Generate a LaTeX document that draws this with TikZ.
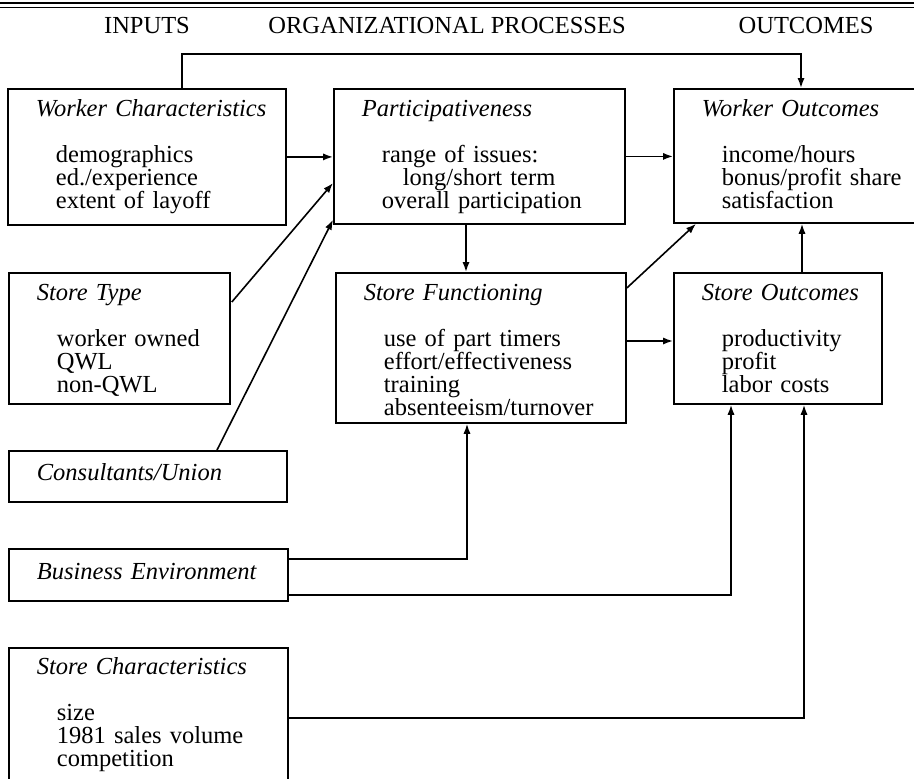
\documentclass[tikz,border=0pt]{standalone}
\usepackage{fontspec}
\setmainfont{Liberation Serif}
\usepackage{tikz}
\usetikzlibrary{arrows.meta}
\usetikzlibrary{calc}
\tikzstyle{box} = [draw,line width=0.9pt,anchor=north west,align=left,inner xsep=0pt,inner ysep=0pt,text height=14pt]
\tikzstyle{head} = [anchor=base,inner sep=0pt]
\tikzstyle{conn} = [line width=0.8pt]
\def\tab{\hspace*{14pt}}
\def\ind{\hspace*{24pt}}
\def\indd{\hspace*{34.5pt}}

\begin{document}
\begin{tikzpicture}[>={Latex[length=5pt,width=3.6pt]},x=0.5pt,y=-0.5pt,font=\fontsize{12.25}{11.5}\selectfont]

    \useasboundingbox (0,0) rectangle (914,778);

% Draw rule and headings

    \draw[line width=1pt] (0,3) -- (914,3);
    \draw[line width=0.4pt] (0,7) -- (914,7);
    \node[head] at (147,33) (hin) {INPUTS};
    \node[head] at (447,33) (hproc) {ORGANIZATIONAL PROCESSES};
    \node[head] at (806,33) (hout) {OUTCOMES};

% Draw blocks

    \node[box,text width=139pt,text depth=54pt] at (7,88) (wchar) {\tab\textit{Worker Characteristics}\\[11.5pt]\ind demographics\\\ind ed./experience\\\ind extent of layoff};
    \node[box,text width=145.5pt,text depth=53.5pt] at (333,88) (part) {\tab\textit{Participativeness}\\[11.5pt]\ind range of issues:\\\indd long/short term\\\ind overall participation};
    \node[box,text width=121pt,text depth=53pt] at (673,88) (wout) {\tab\textit{Worker Outcomes}\\[11.5pt]\ind income/hours\\\ind bonus/profit share\\\ind satisfaction};
    \node[box,text width=110.5pt,text depth=51.5pt] at (8,272) (stype) {\tab\textit{Store Type}\\[11.5pt]\ind worker owned\\\ind QWL\\\ind non-QWL};
    \node[box,text width=145pt,text depth=61pt] at (335,272) (sfunc) {\tab\textit{Store Functioning}\\[11.5pt]\ind use of part timers\\\ind effort/effectiveness\\\ind training\\\ind absenteeism/turnover};
    \node[box,text width=104pt,text depth=51.5pt] at (673,272) (sout) {\tab\textit{Store Outcomes}\\[11.5pt]\ind productivity\\\ind profit\\\ind labor costs};
    \node[box,text width=139pt,text height=15pt,text depth=10.5pt] at (8,450) (cons) {\tab\textit{Consultants/Union}};
    \node[box,text width=139.5pt,text height=15.5pt,text depth=10.5pt] at (8,548) (benv) {\tab\textit{Business Environment}};
    \node[box,text width=139.5pt,text height=13.5pt,text depth=56.5pt] at (8,647) (schar) {\tab\textit{Store Characteristics}\\[11.5pt]\ind size\\\ind 1981 sales volume\\\ind competition};

% Draw connectors

    \draw[conn,->] (wchar.east) -- (wchar.east -| part.west);
    \draw[conn,->] (part.east) -- (part.east -| wout.west);
    \draw[conn,->] ($(wchar.north west)+(175,0)$) |- ($(wout.north west)+(128,-34)$) -- ($(wout.north west)+(128,0)$);
    \draw[conn,->] ($(stype.north east)+(1,30)$) -- ($(part.north west)+(0,95)$);
    \draw[conn,->] ($(cons.north west)+(209,0)$) -- ($(part.south west)+(0,-5)$);
    \draw[conn,->] ($(part.south west)+(133,0)$) -- ($(sfunc.north west)+(131,0)$);
    \draw[conn,->] ($(sfunc.north east)+(0,16)$) -- ($(wout.south west)+(23,0)$);
    \draw[conn,->] ($(sfunc.north east)+(0,69)$) -- ($(sout.north west)+(0,69)$);
    \draw[conn,->] ($(sout.north west)+(129,0)$) -- ($(wout.south west)+(129,0)$);
    \draw[conn,->] ($(benv.north east)+(0,11)$) -| ($(sfunc.south west)+(132,0)$);
    \draw[conn,->] ($(benv.south east)+(0,-7)$) -| ($(sout.south west)+(58,0)$);
    \draw[conn,->] ($(schar.north east)+(0,71)$) -| ($(sout.south west)+(131,0)$);

\end{tikzpicture}
\end{document}
